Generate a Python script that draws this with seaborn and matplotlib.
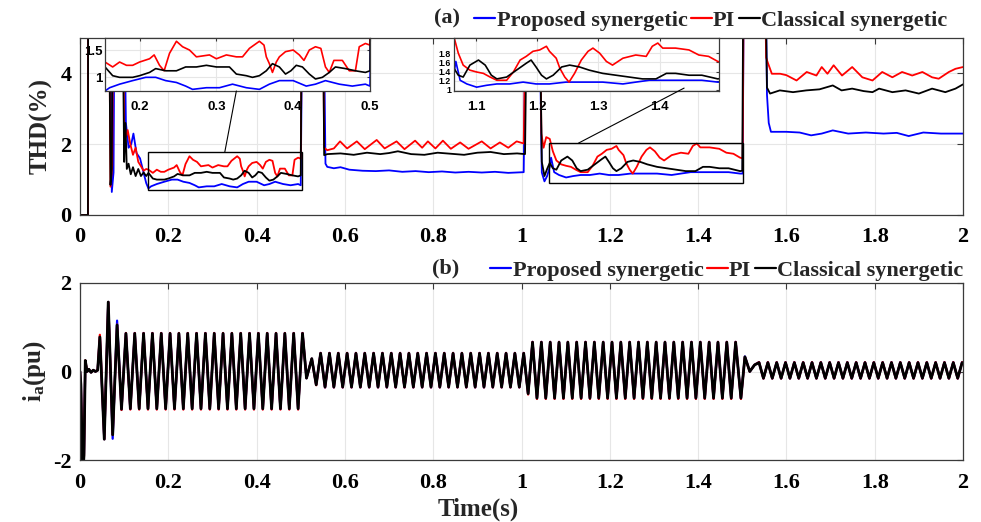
import numpy as np
import pandas as pd
import matplotlib
matplotlib.use("Agg")
import matplotlib.pyplot as plt
import seaborn as sns
from matplotlib.patches import Rectangle, ConnectionPatch
from matplotlib.lines import Line2D
from matplotlib.ticker import FuncFormatter

# ---------------- data ----------------
series_names = ["Proposed synergetic", "PI", "Classical synergetic"]
series_colors = ["#0000ff", "#ff0000", "#000000"]

# THD (%) traces, values of 8 are off-scale spikes
t_thd_prop = [0.0, 0.018, 0.0185, 0.067, 0.072, 0.076, 0.079, 0.098, 0.104, 0.110, 0.116, 0.121, 0.128, 0.136, 0.144, 0.150,
              0.155, 0.161, 0.174, 0.191, 0.208, 0.221, 0.234, 0.248, 0.260, 0.269, 0.287, 0.304, 0.321, 0.339, 0.356, 0.369, 0.382, 0.400, 0.417, 0.429, 0.442, 0.460, 0.477, 0.494, 0.500,
              0.505, 0.550, 0.556, 0.560, 0.575, 0.590, 0.610, 0.640, 0.670, 0.700, 0.730, 0.760, 0.790, 0.820, 0.850, 0.880, 0.910, 0.940, 0.970, 1.005,
              1.011, 1.038, 1.046, 1.052, 1.058, 1.064, 1.067, 1.074, 1.085, 1.101, 1.117, 1.134, 1.155, 1.177, 1.198, 1.220, 1.247, 1.274, 1.307, 1.340, 1.361, 1.383, 1.405, 1.437, 1.469, 1.495, 1.501,
              1.504, 1.552, 1.556, 1.560, 1.565, 1.600, 1.630, 1.656, 1.680, 1.705, 1.740, 1.780, 1.820, 1.850, 1.877, 1.910, 1.950, 2.000]
thd_prop = [0, 0, 8, 8, 0.65, 1.2, 8, 8, 2.6, 1.9, 2.0, 2.3, 1.75, 1.6, 1.2, 0.9,
            0.75, 0.81, 0.875, 0.94, 1.0, 1.0, 0.94, 0.906, 0.84, 0.78, 0.81, 0.81, 0.875, 0.81, 0.78, 0.875, 0.94, 0.94, 0.84, 0.875, 0.94, 0.875, 0.84, 0.875, 0.84,
            8, 8, 1.45, 1.36, 1.32, 1.35, 1.28, 1.25, 1.24, 1.26, 1.22, 1.24, 1.21, 1.23, 1.20, 1.22, 1.20, 1.22, 1.19, 1.21,
            8, 8, 1.2, 0.95, 1.1, 1.36, 1.62, 1.21, 1.13, 1.06, 1.10, 1.13, 1.13, 1.17, 1.13, 1.13, 1.17, 1.17, 1.17, 1.13, 1.17, 1.21, 1.21, 1.21, 1.21, 1.17, 1.17,
            8, 8, 3.4, 2.6, 2.35, 2.35, 2.33, 2.25, 2.30, 2.39, 2.30, 2.33, 2.30, 2.32, 2.23, 2.33, 2.30, 2.30]

t_thd_pi = [0.0, 0.018, 0.0185, 0.065, 0.069, 0.073, 0.076, 0.096, 0.100, 0.104, 0.108, 0.114, 0.120, 0.126, 0.132, 0.137, 0.144, 0.150,
            0.155, 0.165, 0.174, 0.183, 0.191, 0.200, 0.213, 0.219, 0.226, 0.232, 0.239, 0.248, 0.256, 0.265, 0.274, 0.291, 0.300, 0.313, 0.326, 0.334, 0.343, 0.356, 0.362, 0.365, 0.369, 0.373, 0.378, 0.382, 0.390, 0.400, 0.408, 0.414, 0.421, 0.429, 0.436, 0.442, 0.447, 0.453, 0.464, 0.473, 0.481, 0.486, 0.494, 0.500,
            0.504, 0.549, 0.553, 0.560, 0.575, 0.589, 0.605, 0.627, 0.645, 0.672, 0.690, 0.717, 0.735, 0.759, 0.775, 0.788, 0.805, 0.822, 0.840, 0.861, 0.880, 0.910, 0.930, 0.951, 0.970, 0.989, 1.005,
            1.012, 1.040, 1.045, 1.050, 1.056, 1.064, 1.071, 1.079, 1.090, 1.101, 1.112, 1.123, 1.134, 1.150, 1.161, 1.172, 1.182, 1.193, 1.204, 1.215, 1.220, 1.231, 1.237, 1.245, 1.252, 1.261, 1.272, 1.283, 1.291, 1.302, 1.313, 1.323, 1.340, 1.361, 1.378, 1.388, 1.397, 1.405, 1.426, 1.448, 1.464, 1.480, 1.495, 1.501,
            1.504, 1.550, 1.554, 1.558, 1.567, 1.586, 1.600, 1.623, 1.646, 1.668, 1.680, 1.693, 1.707, 1.726, 1.749, 1.772, 1.795, 1.817, 1.840, 1.862, 1.885, 1.908, 1.930, 1.945, 1.968, 1.983, 2.000]
thd_pi = [0, 0, 8, 8, 0.8, 1.4, 8, 8, 2.5, 2.2, 2.4, 2.0, 1.7, 1.9, 1.5, 1.4, 1.25, 1.3,
          1.28, 1.19, 1.28, 1.22, 1.22, 1.28, 1.34, 1.41, 1.22, 1.12, 1.44, 1.66, 1.56, 1.50, 1.375, 1.41, 1.34, 1.41, 1.375, 1.375, 1.53, 1.66, 1.59, 1.375, 1.25, 1.09, 1.28, 1.375, 1.47, 1.50, 1.41, 1.31, 1.50, 1.56, 1.53, 1.19, 1.09, 1.31, 1.31, 1.12, 1.12, 1.56, 1.62, 1.59,
          8, 8, 1.9, 1.83, 1.88, 2.08, 1.88, 2.08, 1.86, 2.12, 1.88, 2.08, 1.86, 2.10, 1.90, 2.08, 1.88, 2.10, 1.87, 2.05, 1.87, 2.08, 1.88, 2.05, 1.90, 2.08, 2.02,
          8, 8, 2.3, 1.9, 2.2, 2.15, 1.80, 1.54, 1.43, 1.39, 1.36, 1.28, 1.21, 1.21, 1.39, 1.65, 1.73, 1.84, 1.87, 1.95, 1.84, 1.69, 1.47, 1.28, 1.17, 1.36, 1.65, 1.84, 1.91, 1.80, 1.62, 1.54, 1.69, 1.76, 1.73, 1.95, 2.02, 1.91, 1.91, 1.87, 1.76, 1.73, 1.62, 1.60,
          8, 8, 4.45, 4.3, 3.99, 3.99, 3.95, 3.80, 4.04, 3.94, 4.18, 3.99, 4.23, 3.94, 4.18, 3.89, 3.80, 4.04, 3.89, 4.04, 3.94, 4.04, 3.89, 3.85, 4.04, 4.13, 4.18]

t_thd_cls = [0.0, 0.018, 0.0185, 0.065, 0.069, 0.072, 0.075, 0.095, 0.100, 0.103, 0.106, 0.110, 0.115, 0.120, 0.126, 0.132, 0.138, 0.144, 0.150,
             0.155, 0.165, 0.174, 0.191, 0.200, 0.213, 0.221, 0.234, 0.248, 0.260, 0.274, 0.287, 0.300, 0.317, 0.326, 0.339, 0.347, 0.356, 0.365, 0.373, 0.382, 0.390, 0.397, 0.404, 0.412, 0.421, 0.429, 0.438, 0.447, 0.455, 0.468, 0.481, 0.494, 0.500,
             0.503, 0.549, 0.553, 0.560, 0.590, 0.620, 0.650, 0.680, 0.700, 0.720, 0.750, 0.780, 0.810, 0.840, 0.870, 0.900, 0.930, 0.960, 0.990, 1.008,
             1.014, 1.039, 1.046, 1.052, 1.058, 1.064, 1.071, 1.079, 1.090, 1.104, 1.115, 1.125, 1.134, 1.150, 1.166, 1.182, 1.190, 1.198, 1.207, 1.215, 1.226, 1.240, 1.253, 1.269, 1.285, 1.307, 1.329, 1.350, 1.372, 1.394, 1.411, 1.426, 1.448, 1.469, 1.495, 1.500,
             1.503, 1.551, 1.556, 1.563, 1.585, 1.615, 1.645, 1.675, 1.705, 1.725, 1.749, 1.775, 1.795, 1.810, 1.840, 1.870, 1.900, 1.930, 1.960, 1.983, 2.000]
thd_cls = [0, 0, 8, 8, 0.85, 1.3, 8, 8, 1.5, 2.6, 1.3, 1.45, 1.15, 1.35, 1.1, 1.3, 1.1, 1.2, 1.1,
           1.19, 1.03, 1.0, 1.0, 1.03, 1.09, 1.16, 1.12, 1.12, 1.19, 1.19, 1.22, 1.19, 1.19, 1.06, 1.03, 1.0, 1.03, 1.12, 1.25, 1.19, 1.06, 1.12, 1.22, 1.19, 1.06, 0.97, 1.0, 1.09, 1.19, 1.16, 1.12, 1.09, 1.12,
           8, 8, 1.69, 1.72, 1.74, 1.70, 1.76, 1.72, 1.75, 1.80, 1.72, 1.70, 1.76, 1.73, 1.70, 1.76, 1.78, 1.72, 1.74, 1.72,
           8, 8, 1.5, 1.1, 1.3, 1.47, 1.32, 1.28, 1.54, 1.65, 1.54, 1.32, 1.24, 1.28, 1.43, 1.58, 1.65, 1.50, 1.32, 1.24, 1.32, 1.50, 1.54, 1.50, 1.43, 1.36, 1.32, 1.28, 1.24, 1.24, 1.36, 1.36, 1.32, 1.32, 1.24, 1.25,
           8, 8, 3.6, 3.43, 3.52, 3.47, 3.52, 3.55, 3.66, 3.52, 3.57, 3.50, 3.47, 3.57, 3.47, 3.52, 3.43, 3.57, 3.47, 3.57, 3.69]

# Phase-a current: extrema
ia_t_start = [0.0, 0.002, 0.006, 0.009, 0.012, 0.016, 0.020, 0.025, 0.030, 0.035, 0.040, 0.045, 0.055, 0.064, 0.074, 0.084, 0.094]
ia_prop_start = [0.0, -0.3, -2.4, -1.85, 0.24, 0.0, 0.05, -0.02, 0.03, 0.0, 0.03, 0.78, -1.53, 1.57, -1.52, 1.15, -0.86]
ia_pi_start = [0.0, -0.3, -2.4, -1.9, 0.25, 0.0, 0.05, -0.02, 0.03, 0.0, 0.03, 0.83, -1.53, 1.57, -1.43, 1.06, -0.87]
ia_cls_start = [0.0, -0.3, -2.4, -1.9, 0.25, 0.0, 0.05, -0.02, 0.03, 0.0, 0.03, 0.78, -1.53, 1.57, -1.43, 1.05, -0.85]

ia_seg_t0 = [0.104, 0.545, 1.025, 1.538]   # first peak of each steady interval
ia_seg_t1 = [0.504, 1.005, 1.485, 1.998]   # last peak of each steady interval
ia_peak_prop = [0.87, 0.42, 0.67, 0.21]
ia_trough_prop = [-0.85, -0.36, -0.61, -0.16]
ia_peak_pi = [0.87, 0.42, 0.67, 0.21]
ia_trough_pi = [-0.86, -0.36, -0.62, -0.16]
ia_peak_cls = [0.86, 0.41, 0.66, 0.20]
ia_trough_cls = [-0.84, -0.35, -0.60, -0.15]

ia_t_trans = [[0.513, 0.525, 0.535], [1.015], [1.497, 1.506, 1.517, 1.528]]
ia_prop_trans = [[-0.15, 0.29, -0.30], [-0.51], [-0.61, 0.34, 0.00, 0.15]]
ia_pi_trans = [[-0.15, 0.29, -0.31], [-0.52], [-0.62, 0.33, 0.00, 0.15]]
ia_cls_trans = [[-0.15, 0.29, -0.30], [-0.50], [-0.60, 0.33, 0.00, 0.15]]

x_ticks = [0, 0.2, 0.4, 0.6, 0.8, 1.0, 1.2, 1.4, 1.6, 1.8, 2.0]


def build_ia(start_v, peaks, troughs, trans_v):
    t = list(ia_t_start)
    v = list(start_v)
    for k in range(len(ia_seg_t0)):
        n = int(round((ia_seg_t1[k] - ia_seg_t0[k]) / 0.01)) + 1
        for j in range(n):
            t.append(ia_seg_t0[k] + 0.01 * j)
            v.append(peaks[k] if j % 2 == 0 else troughs[k])
        if k < len(ia_t_trans):
            t += ia_t_trans[k]
            v += trans_v[k]
    return t, v


thd_frames = []
for name, tt, vv in zip(series_names, [t_thd_prop, t_thd_pi, t_thd_cls], [thd_prop, thd_pi, thd_cls]):
    assert len(tt) == len(vv), name
    thd_frames.append(pd.DataFrame({"t": tt, "v": vv, "series": name}))
df_thd = pd.concat(thd_frames, ignore_index=True)

ia_frames = []
for name, sv, pk, tr, trv in zip(series_names,
                                  [ia_prop_start, ia_pi_start, ia_cls_start],
                                  [ia_peak_prop, ia_peak_pi, ia_peak_cls],
                                  [ia_trough_prop, ia_trough_pi, ia_trough_cls],
                                  [ia_prop_trans, ia_pi_trans, ia_cls_trans]):
    tt, vv = build_ia(sv, pk, tr, trv)
    ia_frames.append(pd.DataFrame({"t": tt, "v": vv, "series": name}))
df_ia = pd.concat(ia_frames, ignore_index=True)

# ---------------- style ----------------
sns.set_theme(style="white")
plt.rcParams["font.family"] = ["Liberation Serif", "DejaVu Serif"]
plt.rcParams["font.weight"] = "bold"
plt.rcParams["mathtext.fontset"] = "custom"
plt.rcParams["mathtext.rm"] = "Liberation Serif:bold"
plt.rcParams["mathtext.bf"] = "Liberation Serif:bold"
plt.rcParams["mathtext.it"] = "Liberation Serif:bold"

W, H = 981, 522
fig = plt.figure(figsize=(W / 100, H / 100), dpi=100, facecolor="white")


def px_axes(x0, y0, x1, y1):
    return fig.add_axes([x0 / W, 1 - y1 / H, (x1 - x0) / W, (y1 - y0) / H])


def matlab_style(ax, labelsize=16, pad=6, family=None):
    ax.set_facecolor("white")
    ax.grid(True, color="#e6e6e6", linewidth=0.8)
    ax.set_axisbelow(True)
    for s in ax.spines.values():
        s.set_visible(True)
        s.set_color("#3a3a3a")
        s.set_linewidth(0.9)
    ax.tick_params(direction="in", top=True, right=True, length=4, width=0.8,
                   color="#3a3a3a", labelcolor="black", labelsize=labelsize, pad=pad)
    for lab in ax.get_xticklabels() + ax.get_yticklabels():
        lab.set_fontweight("bold")
        if family:
            lab.set_fontfamily(family)


def draw(ax, df, lw, lw_top=None):
    sns.lineplot(data=df, x="t", y="v", hue="series", hue_order=series_names,
                 palette=series_colors, estimator=None, sort=False, legend=False,
                 linewidth=lw, ax=ax, errorbar=None)
    if lw_top is not None:
        ax.get_lines()[-1].set_linewidth(lw_top)
    ax.set_xlabel("")
    ax.set_ylabel("")


fmt = FuncFormatter(lambda v, p: f"{v:g}")

# ---- panel (a) ----
ax1 = px_axes(80, 38, 963, 215)
draw(ax1, df_thd, 1.3)
ax1.set_xlim(0, 2)
ax1.set_ylim(0, 5)
ax1.set_xticks(x_ticks)
ax1.set_yticks([0, 2, 4])
ax1.xaxis.set_major_formatter(fmt)
ax1.yaxis.set_major_formatter(fmt)
matlab_style(ax1)
ax1.tick_params(axis="x", pad=9)
ax1.set_ylabel("THD(%)", fontsize=18, fontweight="bold")
ax1.yaxis.set_label_coords(-0.031, 0.5)

ax1.add_patch(Rectangle((0.155, 0.70), 0.502 - 0.155, 1.78 - 0.70, fill=False,
                        ec="black", lw=1.0, zorder=6))
ax1.add_patch(Rectangle((1.062, 0.90), 1.502 - 1.062, 2.03 - 0.90, fill=False,
                        ec="black", lw=1.0, zorder=6))

# ---- panel (b) ----
ax2 = px_axes(80, 283, 963, 460)
draw(ax2, df_ia, 1.6, lw_top=2.0)
ax2.set_xlim(0, 2)
ax2.set_ylim(-2, 2)
ax2.set_xticks(x_ticks)
ax2.set_yticks([-2, 0, 2])
ax2.xaxis.set_major_formatter(fmt)
ax2.yaxis.set_major_formatter(fmt)
matlab_style(ax2)
ax2.tick_params(axis="x", pad=9)
ax2.set_ylabel(r"$\mathbf{i}_{\mathbf{a}}$(pu)", fontsize=18, fontweight="bold")
ax2.yaxis.set_label_coords(-0.036, 0.5)
ax2.set_xlabel("Time(s)", fontsize=18, fontweight="bold")
ax2.xaxis.set_label_coords(0.451, -0.215)

# ---- insets ----
in1 = px_axes(105, 38, 370, 91)
draw(in1, df_thd, 1.2)
in1.set_xlim(0.155, 0.5)
in1.set_ylim(0.75, 1.72)
in1.set_xticks([0.2, 0.3, 0.4, 0.5])
in1.set_yticks([1, 1.5])
in1.xaxis.set_major_formatter(fmt)
in1.yaxis.set_major_formatter(fmt)
matlab_style(in1, labelsize=9.5, pad=2, family="Liberation Sans")
in1.tick_params(axis="x", pad=7)
in1.tick_params(length=2)

in2 = px_axes(454, 38, 719, 91.3)
draw(in2, df_thd, 1.2)
in2.set_xlim(1.064, 1.497)
in2.set_ylim(0.97, 2.13)
in2.set_xticks([1.1, 1.2, 1.3, 1.4])
in2.set_yticks([1, 1.2, 1.4, 1.6, 1.8])
in2.xaxis.set_major_formatter(fmt)
in2.yaxis.set_major_formatter(fmt)
matlab_style(in2, labelsize=6.3, pad=2, family="Liberation Sans")
in2.tick_params(axis="x", pad=7, labelsize=9.5)
in2.tick_params(length=2)

con1 = ConnectionPatch(xyA=(0.328, 1.78), coordsA=ax1.transData,
                       xyB=(0.326, 0.75), coordsB=in1.transData, color="black", lw=0.8)
fig.add_artist(con1)
con2 = ConnectionPatch(xyA=(1.129, 2.03), coordsA=ax1.transData,
                       xyB=(1.44, 1.04), coordsB=in2.transData, color="black", lw=0.8)
fig.add_artist(con2)

# ---- legends ----
handles = [Line2D([], [], color=c, lw=1.6) for c in series_colors]
leg_kw = dict(ncol=3, frameon=False, borderaxespad=0, borderpad=0, handlelength=0.95,
              handletextpad=0.05, columnspacing=0.15,
              prop={"family": "Liberation Serif", "weight": "bold", "size": 16})
leg1 = ax1.legend(handles, series_names, loc="lower right",
                  bbox_to_anchor=((947 - 80) / 883, (215 - 31) / 177), **leg_kw)
leg2 = ax2.legend(handles, series_names, loc="lower right",
                  bbox_to_anchor=((963 - 80) / 883, (460 - 281) / 177), **leg_kw)

fig.text(447 / W, 1 - 18 / H, "(a)", ha="center", va="center", fontsize=16, fontweight="bold")
fig.text(446 / W, 1 - 268 / H, "(b)", ha="center", va="center", fontsize=16, fontweight="bold")

fig.savefig("out.png", dpi=100, facecolor="white")
